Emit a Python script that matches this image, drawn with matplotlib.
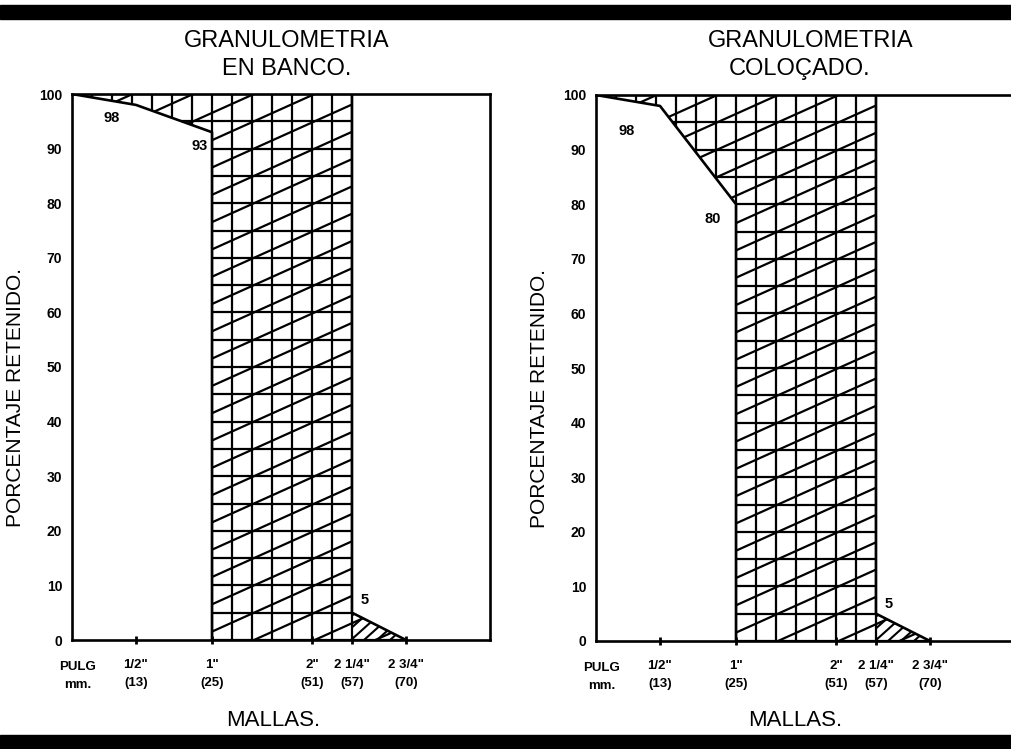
import matplotlib
matplotlib.use("Agg")
import matplotlib.pyplot as plt
from matplotlib.patches import Polygon, Rectangle
from matplotlib.collections import LineCollection
import numpy as np

plt.rcParams["font.family"] = ["Liberation Sans", "DejaVu Sans"]

# sieve positions on the (hand drawn, non-linear) mesh axis
MESH_POS = [64, 140, 240, 280, 334]
MESH_PULG = ['1/2"', '1"', '2"', '2 1/4"', '2 3/4"']
MESH_MM = ["(13)", "(25)", "(51)", "(57)", "(70)"]
Y_TICKS = [0, 10, 20, 30, 40, 50, 60, 70, 80, 90, 100]

# fine side: start, 1/2", 1"
FINE_X = [0, 64, 140]
BANCO_FINE = [100, 98, 93]
COLOC_FINE = [100, 98, 80]
# coarse tail: 2 1/4" -> 2 3/4"
TAIL_X = [280, 334]
BANCO_TAIL = [5, 0]
COLOC_TAIL = [5, 0]

XMAX = 418
PX_PER_PCT = 5.46


def draw_panel(ax, fine_x, fine_y, tail_x, tail_y, labels):
    # hatched zone between the two limit curves
    verts = [(fine_x[0], 100), (tail_x[0], 100)]
    verts += list(zip(tail_x, tail_y))
    verts += [(fine_x[-1], 0)]
    verts += list(zip(fine_x[::-1], fine_y[::-1]))
    zone = Polygon(verts, closed=True, fill=False, linewidth=0)
    ax.add_patch(zone)

    segs = []
    for x in np.arange(0, tail_x[0] + 1, 20):
        segs.append([(x, 0), (x, 100)])
    for y in np.arange(0, 101, 5):
        segs.append([(0, y), (tail_x[-1], y)])
    slope = 0.45 / PX_PER_PCT
    for c in np.arange(-40, 101, 5):
        segs.append([(0, c), (XMAX, c + slope * XMAX)])
    lc = LineCollection(segs, colors="black", linewidths=1.6)
    ax.add_collection(lc)
    lc.set_clip_path(zone)

    # denser hatch in the coarse tail
    tail = Polygon([(tail_x[0], tail_y[0]), (tail_x[1], tail_y[1]),
                    (tail_x[0], 0)], closed=True, fill=False, linewidth=0)
    ax.add_patch(tail)
    steep = 0.9 / PX_PER_PCT
    tsegs = [[(x0, 0), (x0 + 60, steep * 60)] for x0 in np.arange(240, 340, 13)]
    tlc = LineCollection(tsegs, colors="black", linewidths=1.5)
    ax.add_collection(tlc)
    tlc.set_clip_path(tail)

    ax.plot(fine_x + [fine_x[-1]], fine_y + [0], color="black", lw=1.9)
    ax.plot([tail_x[0]] + tail_x, [100] + tail_y, color="black", lw=1.9)

    for (x, y, txt, dx, dy, ha) in labels:
        ax.annotate(txt, (x, y), xytext=(dx, dy), textcoords="offset pixels",
                    ha=ha, va="center", fontsize=10.5, fontweight="bold")

    ax.set_xlim(0, XMAX)
    ax.set_ylim(0, 100)
    ax.set_yticks(Y_TICKS)
    ax.set_yticklabels([str(v) for v in Y_TICKS], fontsize=10, fontweight="bold")
    ax.tick_params(axis="y", length=0, pad=7)
    ax.set_xticks(MESH_POS)
    ax.set_xticklabels([f"{p}\n{m}" for p, m in zip(MESH_PULG, MESH_MM)],
                       fontsize=9.5, fontweight="bold", linespacing=1.67)
    ax.tick_params(axis="x", length=6, width=2, direction="inout", pad=11)
    ax.text(6, -0.066, "PULG\nmm.", transform=ax.get_xaxis_transform(),
            ha="center", va="center", fontsize=9.5, fontweight="bold", linespacing=1.67)
    for s in ax.spines.values():
        s.set_linewidth(1.9)
    ax.set_ylabel("PORCENTAJE RETENIDO.", fontsize=15)


fig = plt.figure(figsize=(10.11, 7.49), dpi=100)
ax1 = fig.add_axes([72 / 1011, 109 / 749, XMAX / 1011, 546 / 749])
ax2 = fig.add_axes([596 / 1011, 108 / 749, XMAX / 1011, 546 / 749])

draw_panel(ax1, FINE_X, BANCO_FINE, TAIL_X, BANCO_TAIL,
           [(FINE_X[1], BANCO_FINE[1], str(BANCO_FINE[1]), -24, -13, "center"),
            (FINE_X[2], BANCO_FINE[2], str(BANCO_FINE[2]), -4, -14, "right"),
            (TAIL_X[0], BANCO_TAIL[0], str(BANCO_TAIL[0]), 13, 13, "center")])
draw_panel(ax2, FINE_X, COLOC_FINE, TAIL_X, COLOC_TAIL,
           [(FINE_X[1], COLOC_FINE[1], str(COLOC_FINE[1]), -33, -25, "center"),
            (FINE_X[2], COLOC_FINE[2], str(COLOC_FINE[2]), -23, -15, "center"),
            (TAIL_X[0], COLOC_TAIL[0], str(COLOC_TAIL[0]), 13, 10, "center")])
ax1.yaxis.set_label_coords(-0.112, 0.445)
ax2.yaxis.set_label_coords(-0.112, 0.445)
ax2.spines["right"].set_visible(False)

# titles and axis names
fig.text(287 / 1011, 1 - 41 / 749, "GRANULOMETRIA", ha="center", va="center", fontsize=17)
fig.text(287 / 1011, 1 - 69 / 749, "EN BANCO.", ha="center", va="center", fontsize=17)
fig.text(811 / 1011, 1 - 41 / 749, "GRANULOMETRIA", ha="center", va="center", fontsize=17)
fig.text(800 / 1011, 1 - 69 / 749, "COLOÇADO.", ha="center", va="center", fontsize=17)
fig.text(273 / 1011, 1 - 720 / 749, "MALLAS.", ha="center", va="center", fontsize=16)
fig.text(795 / 1011, 1 - 720 / 749, "MALLAS.", ha="center", va="center", fontsize=16)

# black scan bands top and bottom
fig.patches.append(Rectangle((0, 1 - 19 / 749), 1, 14 / 749, transform=fig.transFigure,
                             color="black", zorder=0))
fig.patches.append(Rectangle((0, 0), 1, 14 / 749, transform=fig.transFigure,
                             color="black", zorder=0))

fig.savefig("out.png", dpi=100)
